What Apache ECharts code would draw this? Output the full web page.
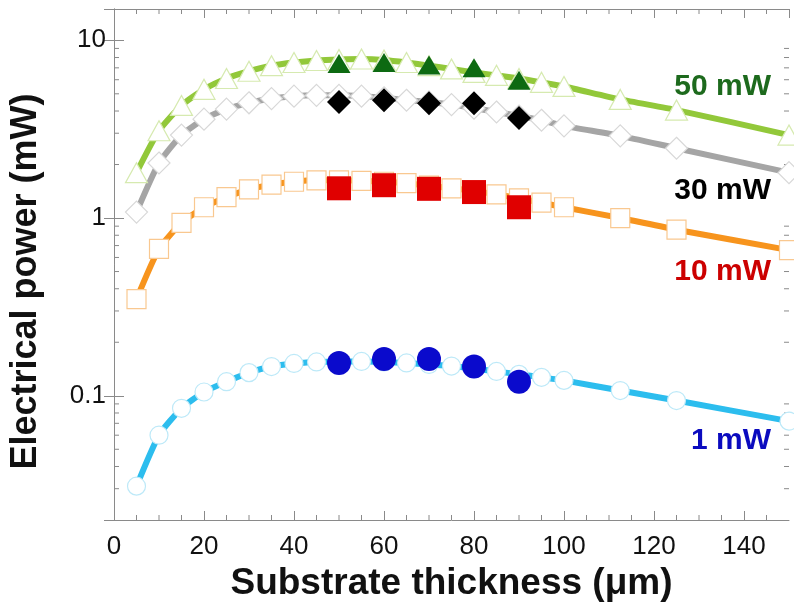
<!DOCTYPE html>
<html><head><meta charset="utf-8">
<script src="https://cdn.jsdelivr.net/npm/echarts@6/dist/echarts.min.js"></script>
<style>html,body{margin:0;padding:0;background:#fff}#c{width:794px;height:610px}</style>
</head><body><div id="c"></div>
<script>
// ---- data ----
const simX  = [5,10,15,20,25,30,35,40,45,50,55,60,65,70,75,80,85,90,95,100,112.5,125,150];
const sim50 = [1.8,3.1,4.3,5.3,6.1,6.7,7.2,7.5,7.7,7.8,7.85,7.75,7.5,7.2,6.9,6.6,6.35,6.1,5.8,5.5,4.65,4.05,2.93];
const sim30 = [1.08,2.04,2.93,3.6,4.1,4.45,4.7,4.85,4.9,4.9,4.85,4.75,4.6,4.5,4.35,4.15,3.95,3.75,3.55,3.3,2.9,2.47,1.8];
const sim10 = [0.35,0.67,0.94,1.15,1.31,1.45,1.54,1.6,1.63,1.63,1.62,1.6,1.57,1.52,1.47,1.42,1.36,1.29,1.22,1.15,1.0,0.86,0.66];
const sim1  = [0.031,0.06,0.085,0.105,0.12,0.135,0.146,0.152,0.155,0.156,0.156,0.155,0.153,0.15,0.147,0.142,0.137,0.132,0.127,0.122,0.107,0.094,0.072];
const expX  = [50,60,70,80,90];
const exp50 = [7.4,7.5,7.25,7.0,5.95];
const exp30 = [4.5,4.6,4.42,4.42,3.65];
const exp10 = [1.47,1.53,1.46,1.40,1.15];
const exp1  = [0.153,0.161,0.161,0.146,0.12];
const seriesNames = ['50 mW','30 mW','10 mW','1 mW'];
const xMinorTicks = [5,10,15,25,30,35,45,50,55,65,70,75,85,90,95,105,110,115,125,130,135,145];
const yMinorTicks = [0.03,0.04,0.05,0.06,0.07,0.08,0.09,0.2,0.3,0.4,0.5,0.6,0.7,0.8,0.9,2,3,4,5,6,7,8,9];
const xTitle = 'Substrate thickness (\u03bcm)';
const yTitle = 'Electrical power (mW)';

// ---- chart ----
const FONT = 'Liberation Sans, Arial, sans-serif';
const Y_MIN = 0.02, Y_MAX = 15, X_MIN = 0, X_MAX = 150;
const frame = '#8a8a8a';
const pairs = (xs, ys) => xs.map((x, i) => [x, ys[i]]);

const styles = [
  {line:'#92c83a', open:'#d6eab0', sym:'triangle', openSize:[22,20], fill:'#0d6a12', fillSize:[23,19], label:'#1d6a1d'},
  {line:'#a5a5a5', open:'#d8d8d8', sym:'diamond',  openSize:[22,22], fill:'#000000', fillSize:[24,24], label:'#000000'},
  {line:'#f7941d', open:'#f9c890', sym:'rect',     openSize:[19,19], fill:'#e00000', fillSize:[24,24], label:'#cc0000'},
  {line:'#2cbdee', open:'#bde9f8', sym:'circle',   openSize:[18,18], fill:'#0a0acc', fillSize:[24,24], label:'#0b0bbf'}
];
const sims = [sim50, sim30, sim10, sim1];
const exps = [exp50, exp30, exp10, exp1];

const series = [];
series.push({
  type:'custom', silent:true, z:1, clip:false,
  data: xMinorTicks.map(v => [v, 1]),
  renderItem: (p, api) => {
    const x = api.value(0);
    const b = api.coord([x, Y_MIN]), t = api.coord([x, Y_MAX]);
    return {type:'group', children:[
      {type:'line', shape:{x1:b[0], y1:b[1], x2:b[0], y2:b[1]-5}, style:{stroke:frame, lineWidth:1}},
      {type:'line', shape:{x1:t[0], y1:t[1], x2:t[0], y2:t[1]+5}, style:{stroke:frame, lineWidth:1}}
    ]};
  }
});
series.push({
  type:'custom', silent:true, z:1, clip:false,
  data: yMinorTicks.map(v => [1, v]),
  renderItem: (p, api) => {
    const y = api.value(1);
    const l = api.coord([X_MIN, y]), r = api.coord([X_MAX, y]);
    return {type:'group', children:[
      {type:'line', shape:{x1:l[0], y1:l[1], x2:l[0]+5, y2:l[1]}, style:{stroke:frame, lineWidth:1}},
      {type:'line', shape:{x1:r[0], y1:r[1], x2:r[0]-5, y2:r[1]}, style:{stroke:frame, lineWidth:1}}
    ]};
  }
});
styles.forEach((s, i) => {
  series.push({
    name: seriesNames[i] + ' sim', type:'line', data: pairs(simX, sims[i]),
    symbol: s.sym, symbolSize: s.openSize, showAllSymbol:true, smooth:0.2,
    lineStyle:{color:s.line, width:6}, itemStyle:{color:'#ffffff', borderColor:s.open, borderWidth:1.2},
    z: 3, silent:true
  });
});
styles.forEach((s, i) => {
  series.push({
    name: seriesNames[i], type:'scatter', data: pairs(expX, exps[i]),
    symbol: s.sym, symbolSize: s.fillSize,
    itemStyle:{color:s.fill, opacity:1}, z: 5, silent:true
  });
});

const logLabel = v => {
  const l = Math.log10(v);
  return Math.abs(l - Math.round(l)) < 1e-6 ? String(+Math.pow(10, Math.round(l)).toPrecision(1)) : '';
};

const baseX = {
  type:'value', min:X_MIN, max:X_MAX, interval:20,
  axisLine:{show:true, lineStyle:{color:frame, width:1}},
  axisTick:{show:true, inside:true, length:9, lineStyle:{color:frame}},
  splitLine:{show:false}
};
const baseY = {
  type:'log', logBase:10, min:Y_MIN, max:Y_MAX,
  axisLine:{show:true, lineStyle:{color:frame, width:1}},
  axisTick:{show:true, inside:true, length:10, lineStyle:{color:frame}},
  splitLine:{show:false}, minorTick:{show:false}
};

const option = {
  backgroundColor:'#ffffff',
  animation:false,
  grid:{left:112, right:5, top:9, bottom:90, containLabel:false},
  xAxis:[
    Object.assign({}, baseX, {position:'bottom',
      axisLabel:{show:true, fontSize:26, color:'#111', fontFamily:FONT, margin:14, showMaxLabel:false},
      name:xTitle, nameLocation:'middle', nameGap:43,
      nameTextStyle:{fontSize:37, fontWeight:'bold', color:'#111', fontFamily:FONT}}),
    Object.assign({}, baseX, {position:'top', axisLabel:{show:false}})
  ],
  yAxis:[
    Object.assign({}, baseY, {position:'left',
      axisLabel:{show:true, fontSize:26, color:'#111', fontFamily:FONT, margin:8, formatter:logLabel},
      name:yTitle, nameLocation:'middle', nameGap:70,
      nameTextStyle:{fontSize:36, fontWeight:'bold', color:'#111', fontFamily:FONT, padding:[0,34,0,0]}}),
    Object.assign({}, baseY, {position:'right', axisLabel:{show:false}})
  ],
  graphic: styles.map((s, i) => ({
    type:'text', z:10, silent:true,
    x: 771, y: [87, 191, 272, 441][i],
    style:{text: seriesNames[i], fill:s.label, font:'bold 30px ' + FONT, textAlign:'right', textVerticalAlign:'middle'}
  })),
  series: series
};

const chart = echarts.init(document.getElementById('c'), null, {renderer:'canvas'});
chart.setOption(option);
</script>
</body></html>
